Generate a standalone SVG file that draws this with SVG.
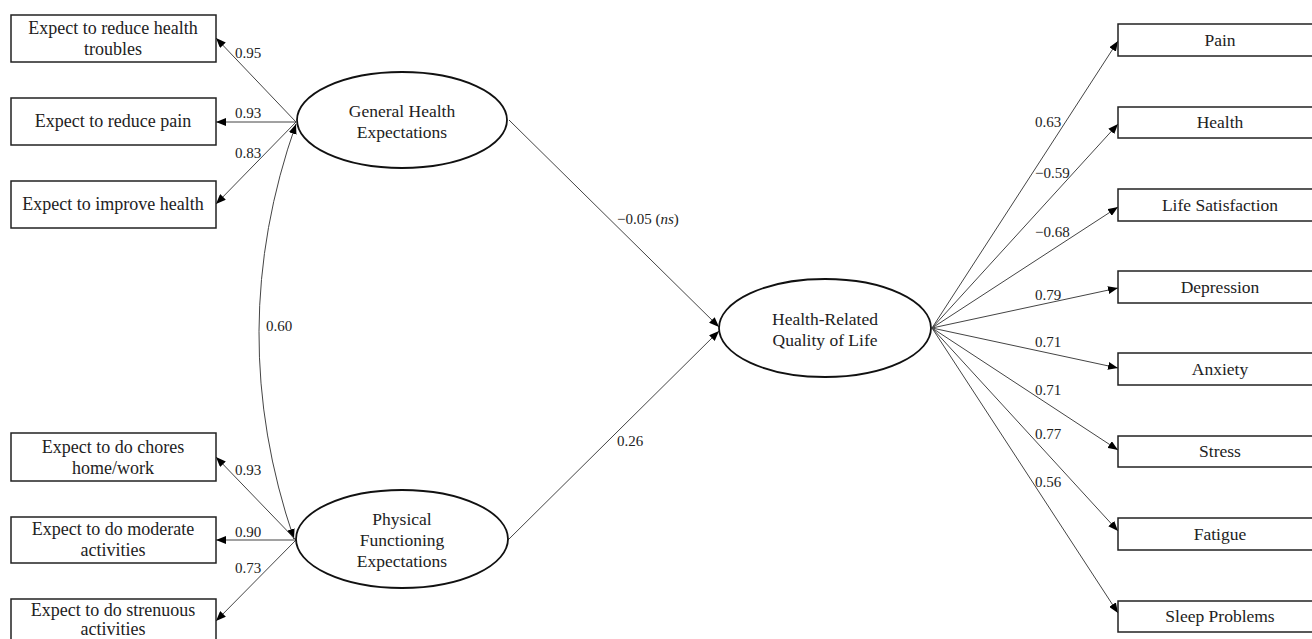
<svg xmlns="http://www.w3.org/2000/svg" width="1312" height="639" viewBox="0 0 1312 639">
<defs>
<marker id="ah" viewBox="0 0 10 8" refX="10" refY="4" markerWidth="10" markerHeight="8" markerUnits="userSpaceOnUse" orient="auto-start-reverse">
<path d="M0,0 L10,4 L0,8 z" fill="#000"/>
</marker>
<style>
.box{fill:#fff;stroke:#222;stroke-width:1.5}
.ell{fill:#fff;stroke:#111;stroke-width:1.8}
.t{font-family:"Liberation Serif","Times New Roman",serif;font-size:17.5px;fill:#222;text-anchor:middle}
.tl{font-size:18px}
.l{font-family:"Liberation Serif","Times New Roman",serif;font-size:15px;fill:#222}
.c{fill:none;stroke:#444;stroke-width:1}
</style>
</defs>
<rect width="1312" height="639" fill="#fff"/>
<g id="connectors" font-family="Liberation Serif, serif">
<line class="c" x1="296" y1="122" x2="216" y2="38" marker-end="url(#ah)"/>
<line class="c" x1="296" y1="122" x2="216" y2="122" marker-end="url(#ah)"/>
<line class="c" x1="296" y1="122" x2="216" y2="204" marker-end="url(#ah)"/>
<path class="c" d="M296,124 Q223,331 294,539" marker-start="url(#ah)" marker-end="url(#ah)"/>
<line class="c" x1="296" y1="540" x2="216" y2="457" marker-end="url(#ah)"/>
<line class="c" x1="296" y1="540" x2="216" y2="540" marker-end="url(#ah)"/>
<line class="c" x1="296" y1="540" x2="216" y2="621" marker-end="url(#ah)"/>
<line class="c" x1="509" y1="120" x2="719" y2="327" marker-end="url(#ah)"/>
<line class="c" x1="508" y1="540" x2="719" y2="331" marker-end="url(#ah)"/>
<line class="c" x1="932" y1="328" x2="1118" y2="41" marker-end="url(#ah)"/>
<line class="c" x1="932" y1="328" x2="1118" y2="124" marker-end="url(#ah)"/>
<line class="c" x1="932" y1="328" x2="1118" y2="207" marker-end="url(#ah)"/>
<line class="c" x1="932" y1="328" x2="1118" y2="288" marker-end="url(#ah)"/>
<line class="c" x1="932" y1="328" x2="1118" y2="368" marker-end="url(#ah)"/>
<line class="c" x1="932" y1="328" x2="1118" y2="450" marker-end="url(#ah)"/>
<line class="c" x1="932" y1="328" x2="1118" y2="531" marker-end="url(#ah)"/>
<line class="c" x1="932" y1="328" x2="1118" y2="613" marker-end="url(#ah)"/>
<text class="l" x="235" y="58">0.95</text>
<text class="l" x="235" y="118">0.93</text>
<text class="l" x="235" y="158">0.83</text>
<text class="l" x="266" y="331">0.60</text>
<text class="l" x="235" y="475">0.93</text>
<text class="l" x="235" y="537">0.90</text>
<text class="l" x="235" y="573">0.73</text>
<text class="l" x="617" y="224">−0.05 (<tspan font-style="italic">ns</tspan>)</text>
<text class="l" x="617" y="446">0.26</text>
<text class="l" x="1035" y="127">0.63</text>
<text class="l" x="1035" y="178">−0.59</text>
<text class="l" x="1035" y="237">−0.68</text>
<text class="l" x="1035" y="300">0.79</text>
<text class="l" x="1035" y="347">0.71</text>
<text class="l" x="1035" y="395">0.71</text>
<text class="l" x="1035" y="439">0.77</text>
<text class="l" x="1035" y="487">0.56</text>
</g>
<g id="n-reduce-troubles"><rect class="box" x="11" y="15" width="205" height="47"/><text class="t tl" x="113" y="34">Expect to reduce health</text><text class="t tl" x="113" y="55">troubles</text></g>
<g id="n-reduce-pain"><rect class="box" x="11" y="98" width="205" height="47"/><text class="t tl" x="113" y="127">Expect to reduce pain</text></g>
<g id="n-improve-health"><rect class="box" x="11" y="181" width="205" height="47"/><text class="t tl" x="113" y="210">Expect to improve health</text></g>
<g id="n-chores"><rect class="box" x="11" y="433" width="205" height="48"/><text class="t tl" x="113" y="453">Expect to do chores</text><text class="t tl" x="113" y="474">home/work</text></g>
<g id="n-moderate"><rect class="box" x="11" y="517" width="205" height="46"/><text class="t tl" x="113" y="535">Expect to do moderate</text><text class="t tl" x="113" y="556">activities</text></g>
<g id="n-strenuous"><rect class="box" x="11" y="599" width="205" height="47"/><text class="t tl" x="113" y="616">Expect to do strenuous</text><text class="t tl" x="113" y="635">activities</text></g>
<g id="n-ghe"><ellipse class="ell" cx="402" cy="120" rx="105" ry="48"/><text class="t" x="402" y="117">General Health</text><text class="t" x="402" y="138">Expectations</text></g>
<g id="n-pfe"><ellipse class="ell" cx="402" cy="539" rx="106" ry="49"/><text class="t" x="402" y="525">Physical</text><text class="t" x="402" y="546">Functioning</text><text class="t" x="402" y="567">Expectations</text></g>
<g id="n-hrql"><ellipse class="ell" cx="825" cy="328" rx="106" ry="49"/><text class="t" x="825" y="325">Health-Related</text><text class="t" x="825" y="346">Quality  of Life</text></g>
<g id="n-pain"><rect class="box" x="1118" y="24" width="205" height="32"/><text class="t" x="1220" y="46">Pain</text></g>
<g id="n-health"><rect class="box" x="1118" y="107" width="205" height="31"/><text class="t" x="1220" y="128">Health</text></g>
<g id="n-life"><rect class="box" x="1118" y="189" width="205" height="32"/><text class="t" x="1220" y="211">Life Satisfaction</text></g>
<g id="n-depression"><rect class="box" x="1118" y="271" width="205" height="32"/><text class="t" x="1220" y="293">Depression</text></g>
<g id="n-anxiety"><rect class="box" x="1118" y="353" width="205" height="32"/><text class="t" x="1220" y="375">Anxiety</text></g>
<g id="n-stress"><rect class="box" x="1118" y="436" width="205" height="31"/><text class="t" x="1220" y="457">Stress</text></g>
<g id="n-fatigue"><rect class="box" x="1118" y="518" width="205" height="32"/><text class="t" x="1220" y="540">Fatigue</text></g>
<g id="n-sleep"><rect class="box" x="1118" y="601" width="205" height="31"/><text class="t" x="1220" y="622">Sleep Problems</text></g>
</svg>
